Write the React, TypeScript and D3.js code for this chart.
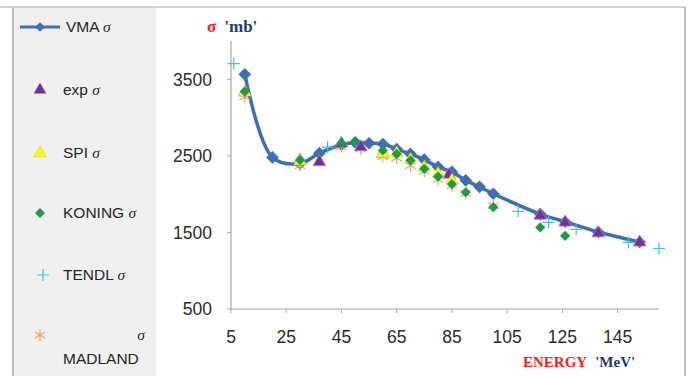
import * as d3 from "d3";

const W = 691;
const H = 376;
const PLOT = { left: 231, right: 659, top: 41, bottom: 309 };

const xTicks = [5, 25, 45, 65, 85, 105, 125, 145];
const yTicks = [500, 1500, 2500, 3500];

// VMA model (smoothed line with diamonds)
const vmaEnergy = [10, 20, 30, 37, 45, 50, 55, 60, 65, 70, 75, 80, 85, 90, 95, 100, 117, 126, 138, 153];
const vmaSigma = [3565, 2480, 2400, 2535, 2645, 2675, 2665, 2655, 2590, 2525, 2450, 2355, 2290, 2180, 2095, 2005, 1740, 1640, 1505, 1375];

const expEnergy = [10, 30, 37, 45, 52, 60, 84, 117, 126, 138, 153];
const expSigma = [3330, 2440, 2420, 2660, 2615, 2530, 2255, 1720, 1630, 1490, 1370];

const spiEnergy = [10, 30, 60, 65, 70, 75, 80, 85];
const spiSigma = [3330, 2430, 2530, 2535, 2450, 2350, 2265, 2180];

const koningEnergy = [10, 30, 45, 50, 60, 65, 70, 75, 80, 85, 90, 100, 117, 126];
const koningSigma = [3340, 2445, 2665, 2690, 2570, 2525, 2440, 2330, 2230, 2130, 2025, 1830, 1565, 1455];

const tendlEnergy = [6, 40, 109, 120, 130, 149, 160];
const tendlSigma = [3705, 2615, 1775, 1630, 1540, 1370, 1290];

const madlandEnergy = [10, 30, 45, 52, 60, 65, 70, 75, 80, 85, 90, 100];
const madlandSigma = [3270, 2370, 2620, 2590, 2490, 2470, 2370, 2300, 2190, 2110, 2010, 1850];

const COLORS = {
  vma: "#3d70b0",
  exp: "#7030a0",
  spi: "#ffff00",
  koning: "#1f9a48",
  tendl: "#3cc3e6",
  madland: "#f4a36a",
};

const zip = (xs: number[], ys: number[]) => xs.map((x, i) => ({ x, y: ys[i] }));

const diamond = d3.symbol().type(d3.symbolSquare);
const triangle = d3.symbol().type(d3.symbolTriangle).size(68);
const asterisk = d3.symbol().type(d3.symbolAsterisk).size(100);

const plusPath = (cx: number, cy: number, r: number) =>
  `M${cx - r},${cy}H${cx + r}M${cx},${cy - r}V${cy + r}`;

const Sigma = () => (
  <tspan fontFamily="Liberation Serif" fontStyle="italic">
    σ
  </tspan>
);

export default function App() {
  const x = d3.scaleLinear().domain([5, 160]).range([PLOT.left, PLOT.right]);
  const y = d3.scaleLinear().domain([500, 4000]).range([PLOT.bottom, PLOT.top]);

  const line = d3
    .line<{ x: number; y: number }>()
    .x((d) => x(d.x))
    .y((d) => y(d.y))
    .curve(d3.curveCatmullRom);

  const vma = zip(vmaEnergy, vmaSigma);
  const exp = zip(expEnergy, expSigma);
  const spi = zip(spiEnergy, spiSigma);
  const koning = zip(koningEnergy, koningSigma);
  const tendl = zip(tendlEnergy, tendlSigma);
  const madland = zip(madlandEnergy, madlandSigma);

  const legendFont = { fontFamily: "Liberation Sans", fontSize: 15.5, fill: "#262626" };

  return (
    <div style={{ position: "fixed", left: 0, top: 0 }}>
      <svg width={W} height={H} style={{ display: "block", background: "#fff" }}>
        {/* Legend panel */}
        <rect x={13} y={7} width={143} height={H - 7} fill="#f0f0f0" />
        <line x1={13} x2={13} y1={7} y2={H} stroke="#a8a8a8" strokeWidth={1.5} />
        <line x1={0} x2={685} y1={7} y2={7} stroke="#c4c4c4" strokeWidth={1.5} />
        <line x1={685} x2={685} y1={7} y2={H} stroke="#a8a8a8" strokeWidth={1.5} />

        {/* Legend entries */}
        <g>
          <line x1={20} x2={60} y1={27} y2={27} stroke={COLORS.vma} strokeWidth={3} />
          <path d={diamond.size(45)()!} transform="translate(40,27) rotate(45)" fill={COLORS.vma} />
          <text x={66} y={32} {...legendFont}>
            VMA <Sigma />
          </text>

          <path d={triangle()!} transform="translate(40,90)" fill={COLORS.exp} />
          <text x={63} y={95} {...legendFont}>
            exp <Sigma />
          </text>

          <path d={triangle()!} transform="translate(40,153)" fill={COLORS.spi} stroke="#c8c800" strokeWidth={0.5} />
          <text x={63} y={158} {...legendFont}>
            SPI <Sigma />
          </text>

          <path d={diamond.size(50)()!} transform="translate(40,213) rotate(45)" fill={COLORS.koning} />
          <text x={63} y={218} {...legendFont}>
            KONING <tspan dx={4} /><Sigma />
          </text>

          <path d={plusPath(43, 275, 6)} stroke={COLORS.tendl} strokeWidth={1.2} fill="none" />
          <text x={63} y={280} {...legendFont}>
            TENDL <Sigma />
          </text>

          <path d={asterisk()!} transform="translate(40,335)" stroke={COLORS.madland} strokeWidth={1.2} fill="none" />
          <text x={145} y={340} textAnchor="end" {...legendFont}>
            <Sigma />
          </text>
          <text x={63} y={364} {...legendFont}>
            MADLAND
          </text>
        </g>

        {/* Axes */}
        <line x1={PLOT.left} x2={PLOT.left} y1={PLOT.top} y2={PLOT.bottom} stroke="#a6a6a6" strokeWidth={1.2} />
        <line x1={PLOT.left} x2={PLOT.right} y1={PLOT.bottom} y2={PLOT.bottom} stroke="#a6a6a6" strokeWidth={1.2} />
        {yTicks.map((t) => (
          <g key={t}>
            <line x1={PLOT.left - 4} x2={PLOT.left} y1={y(t)} y2={y(t)} stroke="#a6a6a6" />
            <text
              x={212}
              y={y(t)}
              dy="0.36em"
              textAnchor="end"
              fontFamily="Liberation Sans"
              fontSize={17.5}
              fill="#2b2b2b"
            >
              {t}
            </text>
          </g>
        ))}
        {xTicks.map((t) => (
          <g key={t}>
            <line x1={x(t)} x2={x(t)} y1={PLOT.bottom} y2={PLOT.bottom + 4} stroke="#a6a6a6" />
            <text
              x={x(t)}
              y={343}
              textAnchor="middle"
              fontFamily="Liberation Sans"
              fontSize={17.5}
              fill="#2b2b2b"
            >
              {t}
            </text>
          </g>
        ))}

        {/* Axis titles */}
        <text x={207} y={32} fontFamily="Liberation Serif" fontWeight="bold" fontSize={17}>
          <tspan fill="#ff1a1a">σ</tspan>
          <tspan dx={8} fill="#1f3a78">'mb'</tspan>
        </text>
        <text x={523} y={367} fontFamily="Liberation Serif" fontWeight="bold" fontSize={15}>
          <tspan fill="#ff1a1a">ENERGY</tspan>
          <tspan dx={8} fill="#1f3a78">'MeV'</tspan>
        </text>

        {/* VMA curve */}
        <path d={line(vma)!} fill="none" stroke={COLORS.vma} strokeWidth={3.5} />
        {vma.map((d, i) => (
          <path
            key={`v${i}`}
            d={diamond.size(80)()!}
            transform={`translate(${x(d.x)},${y(d.y)}) rotate(45)`}
            fill={COLORS.vma}
          />
        ))}

        {/* MADLAND */}
        {madland.map((d, i) => (
          <path
            key={`m${i}`}
            d={asterisk()!}
            transform={`translate(${x(d.x)},${y(d.y)})`}
            stroke={COLORS.madland}
            strokeWidth={1.2}
            fill="none"
          />
        ))}

        {/* TENDL */}
        {tendl.map((d, i) => (
          <path
            key={`t${i}`}
            d={plusPath(x(d.x), y(d.y), 6)}
            stroke={COLORS.tendl}
            strokeWidth={1.2}
            fill="none"
          />
        ))}

        {/* exp */}
        {exp.map((d, i) => (
          <path
            key={`e${i}`}
            d={triangle()!}
            transform={`translate(${x(d.x)},${y(d.y)})`}
            fill={COLORS.exp}
            stroke="#c070c0"
            strokeWidth={0.8}
          />
        ))}

        {/* SPI */}
        {spi.map((d, i) => (
          <path
            key={`s${i}`}
            d={triangle()!}
            transform={`translate(${x(d.x)},${y(d.y)})`}
            fill={COLORS.spi}
            stroke="#d4d400"
            strokeWidth={0.5}
          />
        ))}

        {/* KONING */}
        {koning.map((d, i) => (
          <path
            key={`k${i}`}
            d={diamond.size(52)()!}
            transform={`translate(${x(d.x)},${y(d.y)}) rotate(45)`}
            fill={COLORS.koning}
          />
        ))}
      </svg>
    </div>
  );
}
